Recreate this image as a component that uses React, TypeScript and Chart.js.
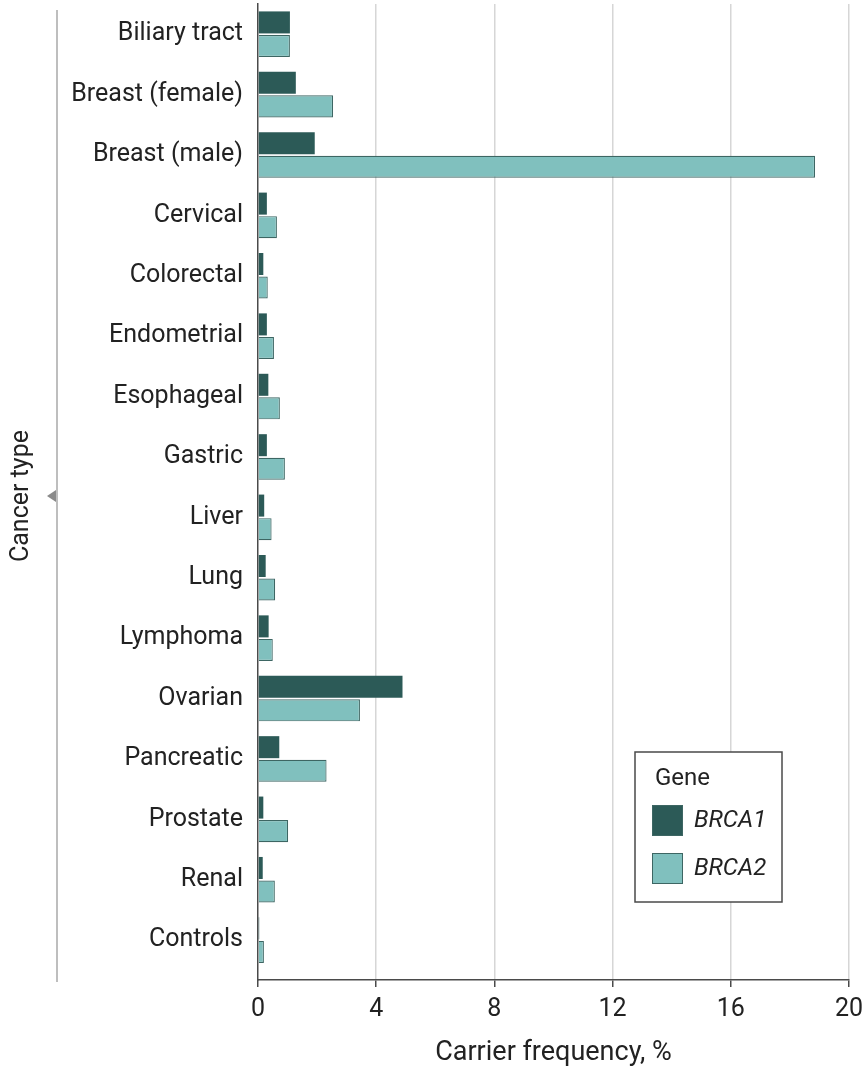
import React, { useEffect, useRef } from "react";
import { Chart, registerables } from "chart.js";

Chart.register(...registerables);

const categories = [
  "Biliary tract",
  "Breast (female)",
  "Breast (male)",
  "Cervical",
  "Colorectal",
  "Endometrial",
  "Esophageal",
  "Gastric",
  "Liver",
  "Lung",
  "Lymphoma",
  "Ovarian",
  "Pancreatic",
  "Prostate",
  "Renal",
  "Controls",
];

const brca1 = [1.08, 1.28, 1.92, 0.3, 0.18, 0.3, 0.35, 0.3, 0.21, 0.26, 0.36, 4.89, 0.72, 0.18, 0.16, 0.04];
const brca2 = [1.08, 2.54, 18.85, 0.64, 0.33, 0.54, 0.74, 0.91, 0.46, 0.58, 0.5, 3.45, 2.32, 1.02, 0.57, 0.2];

const seriesNames = ["BRCA1", "BRCA2"];
const xTicks = [0, 4, 8, 12, 16, 20];
const xTitle = "Carrier frequency, %";
const yTitle = "Cancer type";
const legendTitle = "Gene";

const FONT = "Roboto";
const TEXT = "#222222";
const DARK = "#2c5a57";
const LIGHT = "#80c0be";
const BORDER = "#3d6663";

const decorPlugin = {
  id: "decor",
  afterDraw(chart: any) {
    const ctx = chart.ctx;
    const area = chart.chartArea;
    ctx.save();
    // left bracket line
    ctx.strokeStyle = "#a8a8a8";
    ctx.lineWidth = 1.5;
    ctx.beginPath();
    ctx.moveTo(57, 10);
    ctx.lineTo(57, 982);
    ctx.stroke();
    const midY = (area.top + area.bottom) / 2 + 4;
    ctx.fillStyle = "#8a8a8a";
    ctx.beginPath();
    ctx.moveTo(47, midY);
    ctx.lineTo(56, midY - 6);
    ctx.lineTo(56, midY + 6);
    ctx.closePath();
    ctx.fill();
    // y title
    ctx.fillStyle = TEXT;
    ctx.font = `25px ${FONT}`;
    ctx.textAlign = "center";
    ctx.textBaseline = "middle";
    ctx.translate(22, midY);
    ctx.rotate(-Math.PI / 2);
    ctx.fillText(yTitle, 0, 0);
    ctx.restore();

    // legend box
    ctx.save();
    const bx = 635, by = 752, bw = 147, bh = 150;
    ctx.fillStyle = "#ffffff";
    ctx.fillRect(bx, by, bw, bh);
    ctx.strokeStyle = "#4a4a4a";
    ctx.lineWidth = 1.5;
    ctx.strokeRect(bx, by, bw, bh);
    ctx.fillStyle = TEXT;
    ctx.font = `24px ${FONT}`;
    ctx.textAlign = "left";
    ctx.textBaseline = "middle";
    ctx.fillText(legendTitle, 655, 779);
    const colors = [DARK, LIGHT];
    seriesNames.forEach((name, i) => {
      const sy = 805 + i * 48;
      ctx.fillStyle = colors[i];
      ctx.fillRect(652, sy, 31, 31);
      ctx.strokeStyle = BORDER;
      ctx.lineWidth = 1;
      ctx.strokeRect(652.5, sy + 0.5, 30, 30);
      ctx.fillStyle = TEXT;
      ctx.font = `italic 24px ${FONT}`;
      ctx.fillText(name, 694, sy + 16);
    });
    ctx.restore();
  },
};

export default function App() {
  const ref = useRef<HTMLCanvasElement>(null);
  useEffect(() => {
    if (!ref.current) return;
    const chart = new Chart(ref.current, {
      type: "bar",
      data: {
        datasets: [
          {
            label: seriesNames[0],
            data: brca1.map((v, i) => ({ x: v, y: i })),
            backgroundColor: DARK,
            borderColor: DARK,
            borderWidth: 0,
            categoryPercentage: 0.78,
            barPercentage: 0.935,
          },
          {
            label: seriesNames[1],
            data: brca2.map((v, i) => ({ x: v, y: i })),
            backgroundColor: LIGHT,
            borderColor: BORDER,
            borderWidth: 1.2,
            categoryPercentage: 0.78,
            barPercentage: 0.935,
          },
        ],
      } as any,
      options: {
        indexAxis: "y",
        animation: false,
        responsive: false,
        maintainAspectRatio: false,
        layout: { padding: { left: 0, right: 19, top: 4, bottom: 0 } },
        plugins: { legend: { display: false }, tooltip: { enabled: false } },
        scales: {
          x: {
            type: "linear",
            position: "bottom",
            min: 0,
            max: 20,
            offset: false,
            afterBuildTicks: (scale: any) => {
              scale.ticks = xTicks.map((v) => ({ value: v }));
            },
            afterFit: (scale: any) => {
              scale.height = 93;
              scale.paddingLeft = 0;
              scale.paddingRight = 0;
            },
            grid: {
              color: (c: any) => (c.tick && c.tick.value === 0 ? "rgba(0,0,0,0)" : "#d6d6d6"),
              lineWidth: 1.5,
              drawTicks: true,
              tickLength: 7,
              tickColor: "#4a4a4a",
            },
            border: { display: true, color: "#4a4a4a", width: 1.5 },
            ticks: {
              color: TEXT,
              font: { family: FONT, size: 25 },
              padding: 8,
              autoSkip: false,
              maxRotation: 0,
            },
            title: {
              display: true,
              text: xTitle,
              color: TEXT,
              font: { family: FONT, size: 27 },
              padding: { top: 0, bottom: 4 },
            },
          },
          y: {
            type: "linear",
            reverse: true,
            offset: false,
            min: -0.5,
            max: 15.66,
            afterBuildTicks: (scale: any) => {
              scale.ticks = categories.map((_, i) => ({ value: i }));
            },
            afterFit: (scale: any) => {
              scale.width = 258;
              scale.paddingTop = 0;
              scale.paddingBottom = 0;
            },
            grid: { display: false, drawTicks: false, offset: false },
            border: { display: true, color: "#4a4a4a", width: 1.5 },
            ticks: {
              color: TEXT,
              font: { family: FONT, size: 25 },
              padding: 15,
              autoSkip: false,
              callback: (v: any) => categories[v as number],
            },
          },
        },
      } as any,
      plugins: [decorPlugin],
    });
    return () => chart.destroy();
  }, []);
  return (
    <div style={{ position: "fixed", left: 0, top: 0, width: 868, height: 1073, background: "#fff" }}>
      <canvas ref={ref} width={868} height={1073} style={{ width: 868, height: 1073 }} />
    </div>
  );
}
